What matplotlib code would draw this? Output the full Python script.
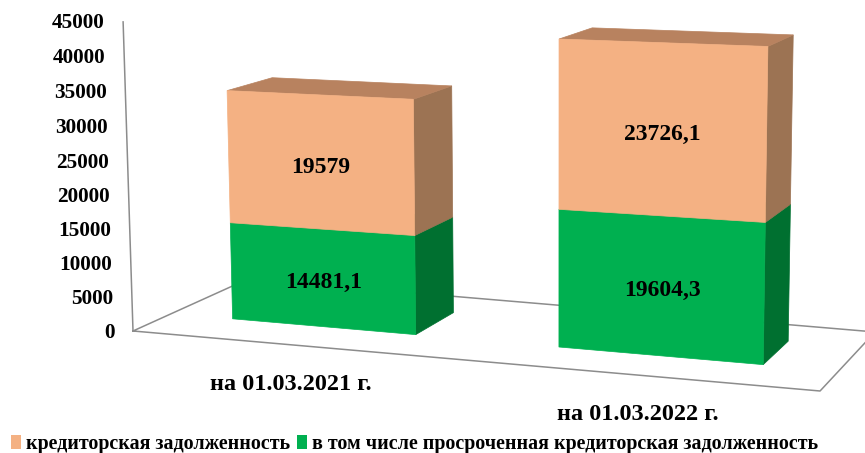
import matplotlib
matplotlib.use("Agg")
import matplotlib.pyplot as plt
from matplotlib.patches import Polygon, Patch

plt.rcParams['font.family'] = ['Liberation Serif', 'DejaVu Serif']
plt.rcParams['font.weight'] = 'bold'

categories = ['на 01.03.2021 г.', 'на 01.03.2022 г.']
overdue = [14481.1, 19604.3]
payables = [19579, 23726.1]
ticks = [0, 5000, 10000, 15000, 20000, 25000, 30000, 35000, 40000, 45000]
overdue_name = 'в том числе просроченная кредиторская задолженность'
payables_name = 'кредиторская задолженность'

# where the boxes stand on the floor, floor runs 0..1 both ways
bar_left = [0.094, 0.588]
bar_right = [0.373, 0.89]
depth_front = 0.315
depth_back = 0.72
vmax = 45000


# perspective of the 3d chart: floor position + value -> picture pixels
def project(u, v, z):
    w = 1 - 0.0303 * u + 0.0983 * v - 5.09e-7 * z
    x = 662.2 * u + 139.4 * v + 133 - 2.824e-4 * z
    y = 48.15 * u - 24.6 * v + 331 - (6.88e-3 + 5.8e-4 * u) * z
    return x / w, y / w


def draw_box(ax, u0, u1, z0, z1, front, top, side):
    corners = [(u1, depth_front, z0), (u1, depth_back, z0), (u1, depth_back, z1), (u1, depth_front, z1)]
    ax.add_patch(Polygon([project(*c) for c in corners], fc=side, ec=side, lw=0.5))
    corners = [(u0, depth_front, z1), (u1, depth_front, z1), (u1, depth_back, z1), (u0, depth_back, z1)]
    ax.add_patch(Polygon([project(*c) for c in corners], fc=top, ec=top, lw=0.5))
    corners = [(u0, depth_front, z0), (u1, depth_front, z0), (u1, depth_front, z1), (u0, depth_front, z1)]
    ax.add_patch(Polygon([project(*c) for c in corners], fc=front, ec=front, lw=0.5))


def value_text(val):
    return f"{val:g}".replace('.', ',')


fig = plt.figure(figsize=(8.65, 4.53), dpi=100)
ax = fig.add_axes([0, 0, 1, 1])
ax.set_xlim(0, 865)
ax.set_ylim(453, 0)
ax.axis('off')

# floor and value axis, behind the boxes
floor = [project(u, v, 0) for u, v in [(0, 0), (1, 0), (1, 1), (0, 1), (0, 0)]]
ax.plot([p[0] for p in floor], [p[1] for p in floor], color='#8c8c8c', lw=1.1, zorder=0)
axis_line = [project(0, 0, 0), project(0, 0, vmax)]
ax.plot([p[0] for p in axis_line], [p[1] for p in axis_line], color='#8c8c8c', lw=1.1, zorder=0)

for t in ticks:
    x, y = project(0, 0, t)
    ax.text(x - 18.5, y + 1.5, str(t), ha='right', va='center', fontsize=15.3, color='black')

# boxes
for i in range(len(categories)):
    u0, u1 = bar_left[i], bar_right[i]
    total = overdue[i] + payables[i]
    draw_box(ax, u0, u1, 0, overdue[i], '#00B050', '#008a40', '#007030')
    draw_box(ax, u0, u1, overdue[i], total, '#F4B183', '#B8825F', '#9C7353')

    mid = (u0 + u1) / 2
    x, y = project(mid, depth_front, overdue[i] / 2)
    ax.text(x + 1, y + 4, value_text(overdue[i]), ha='center', va='center', fontsize=17)
    x, y = project(mid, depth_front, overdue[i] + payables[i] / 2)
    ax.text(x, y + 5, value_text(payables[i]), ha='center', va='center', fontsize=17)

    x, y = project(mid, 0, 0)
    ax.text(x + 1, y + 40, categories[i], ha='center', va='center', fontsize=17.5)

handles = [Patch(fc='#F4B183', ec='none'), Patch(fc='#00B050', ec='none')]
ax.legend(handles, [payables_name, overdue_name], ncol=2, frameon=False,
          loc='lower left', bbox_to_anchor=(0.0085, -0.012), fontsize=14.45,
          handlelength=0.5, handleheight=0.7, handletextpad=0.25,
          columnspacing=0.3, borderpad=0.2, borderaxespad=0)

fig.savefig('out.png', dpi=100)
